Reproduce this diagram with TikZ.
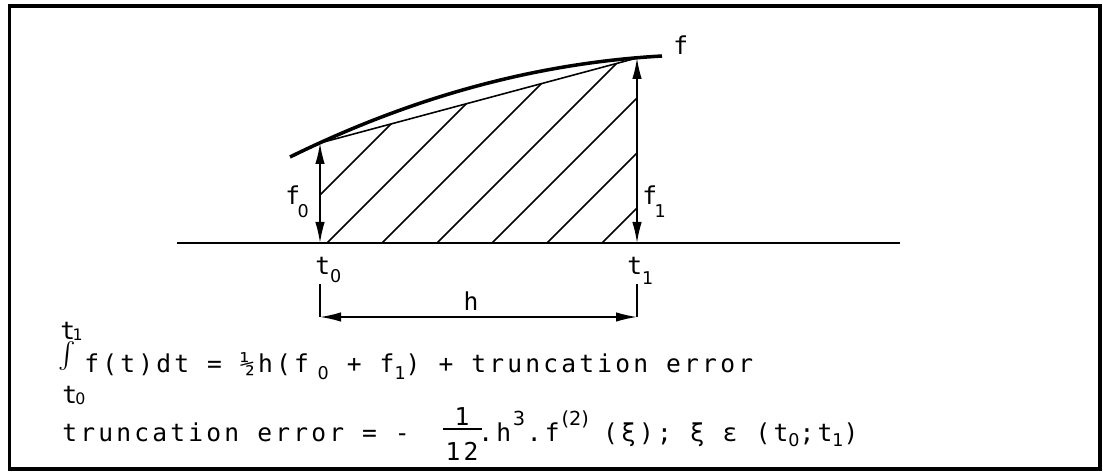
\documentclass[tikz,border=0pt]{standalone}
\usepackage{fontspec}
\usetikzlibrary{arrows.meta}
\newfontfamily\typefont[LetterSpace=13]{DejaVu Sans Mono}
\newfontfamily\digitfont{DejaVu Sans}
% lowered index: [extra gap]{drop}{digit}
\newcommand{\lowidx}[3][0pt]{\kern#1\raisebox{-#2}{\digitfont\fontsize{10}{10}\selectfont #3}}
% raised index: [space after]{text}
\newcommand{\highidx}[2][1pt]{\kern1pt\raisebox{9pt}{\digitfont\fontsize{11}{11}\selectfont #2}\kern#1}
\tikzset{
  trap frame/.style={draw, line width=2.2pt},
  trap axis/.style={draw, line width=1.1pt},
  trap curve/.style={draw, line width=2pt},
  trap hatch/.style={draw, line width=0.9pt},
  trap arrow/.style={draw, line width=0.9pt, {Latex[length=4.2mm,width=1.9mm]}-{Latex[length=4.2mm,width=1.9mm]}},
  trap label/.style={font=\typefont\fontsize{14}{16}\selectfont, inner sep=0pt},
}
\begin{document}
\begin{tikzpicture}[x=0.2mm, y=0.2mm]
  \useasboundingbox (0,0) rectangle (1103,471);
  \draw[trap frame] (9.5,2) rectangle (1100,465);
  % Time axis and the two ordinates
  \coordinate (axisL) at (177,228);
  \coordinate (axisR) at (900,228);
  \coordinate (t0) at (320,228);
  \coordinate (t1) at (637,228);
  \coordinate (f0) at (320,328);
  \coordinate (f1) at (637,413);
  \draw[trap axis] (axisL) -- (axisR);
  % Hatched trapezoid under the chord
  \begin{scope}
    \clip (t0) -- (f0) -- (f1) -- (t1) -- cycle;
    \foreach \c in {272,327,...,602} \draw[trap hatch] (\c,228) -- ++(200,200);
  \end{scope}
  \draw[trap hatch] (f0) -- (f1);
  % The function f
  \draw[trap curve] (290,314) .. controls (414,375) and (538,408) .. (662,415);
  \draw[trap arrow] (t0) -- (f0);
  \draw[trap arrow] (t1) -- (f1);
  \node[trap label, anchor=base west] (flab) at (673,416) {f};
  \node[trap label, anchor=base west] (f0lab) at (285,266) {f\lowidx[-1.5pt]{7pt}{0}};
  \node[trap label, anchor=base west] (f1lab) at (642,266) {f\lowidx[-1.5pt]{7pt}{1}};
  \node[trap label, anchor=base west] (t0lab) at (315,196) {t\lowidx{4.5pt}{0}};
  \node[trap label, anchor=base west] (t1lab) at (627,196) {t\lowidx{5.5pt}{1}};
  % Step width h
  \coordinate (h0top) at (320,187);
  \coordinate (h1top) at (637,187);
  \coordinate (h0) at (320,154);
  \coordinate (h1) at (637,154);
  \draw[trap hatch] (h0top) -- (h0);
  \draw[trap hatch] (h1top) -- (h1);
  \draw[trap arrow] (h0) -- (h1);
  \node[trap label, anchor=base] (hlab) at (471,161) {h};
  % Trapezoidal rule
  \node[trap label, anchor=south] (intsign) at (67,100) {\resizebox{!}{4.8mm}{$\int$}};
  \node[trap label, anchor=base west] (uplim) at (60,132) {t\kern-1.5pt\raisebox{-1pt}{\digitfont\fontsize{9}{9}\selectfont 1}};
  \node[trap label, anchor=base west] (lowlim) at (62,68) {t\kern-1pt\raisebox{-1pt}{\digitfont\fontsize{9}{9}\selectfont 0}};
  \node[trap label, anchor=base west] (intline) at (84,99)
    {f(t)dt = ½h(f\lowidx[5pt]{4pt}{0} + f\lowidx{4pt}{1}) + truncation error};
  % Error term
  \node[trap label, anchor=base west] (errlhs) at (62,30) {truncation error = -};
  \node[trap label, anchor=base] (fracnum) at (462,46) {1};
  \node[trap label, anchor=base] (fracden) at (462,11) {12};
  \draw[line width=1.3pt] (443,42) -- (482,42);
  \node[trap label, anchor=base west] (errrhs) at (478,30)
    {.h\highidx{3}.f\highidx[8pt]{(2)}(ξ); ξ ε (t\lowidx{3pt}{0};t\lowidx{3pt}{1})};
\end{tikzpicture}
\end{document}
